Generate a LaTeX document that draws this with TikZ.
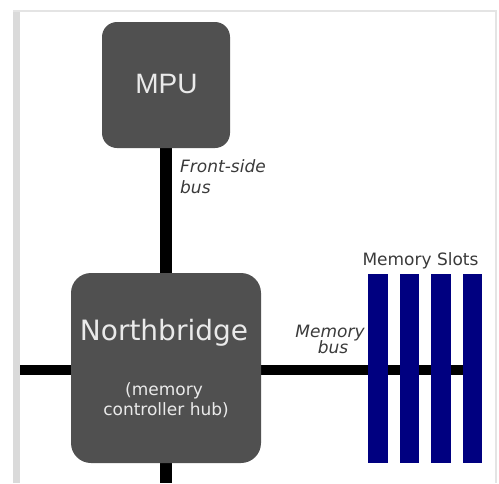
\documentclass[tikz,border=0pt]{standalone}
\usepackage{fontspec}
\setmainfont{DejaVu Sans}
\newfontfamily\arialfont{Liberation Sans}
\pgfdeclarelayer{background}
\pgfsetlayers{background,main}
\definecolor{boxgray}{HTML}{505050}
\definecolor{boxtext}{HTML}{EAEAEA}
\definecolor{labelgray}{HTML}{3A3A3A}
\definecolor{slotblue}{HTML}{000080}
\definecolor{framegray}{HTML}{DADADA}
\definecolor{framelight}{HTML}{E4E4E4}
\tikzset{
  chip/.style={draw=none, fill=boxgray, inner sep=0pt},
  slotbar/.style={draw=none, fill=slotblue, minimum width=19.5pt, minimum height=189pt, inner sep=0pt},
  bus/.style={line width=10pt, draw=black},
  vbus/.style={line width=12.5pt, draw=black},
  lbl/.style={text=labelgray, inner sep=0pt, font=\fontsize{17}{20}\selectfont\itshape},
  inbox/.style={text=boxtext, inner sep=0pt},
}
\begin{document}
\begin{tikzpicture}[x=1pt,y=-1pt]
\useasboundingbox (0,0) rectangle (499,483);
% frame
\fill[framegray] (13,10) rectangle (20,483);
\fill[framelight] (13,10) rectangle (497,12);
\fill[framelight] (495,10) rectangle (497,483);
% chips
\node[chip, rounded corners=15pt, minimum width=128pt, minimum height=126pt] (mpu) at (166,85) {};
\node[chip, rounded corners=20pt, minimum width=190pt, minimum height=190pt] (nb) at (166,368) {};
% slots
\node[slotbar] (s1) at (378,368.5) {};
\node[slotbar] (s2) at (409.5,368.5) {};
\node[slotbar] (s3) at (441,368.5) {};
\node[slotbar] (s4) at (472.5,368.5) {};
% bus coordinates
\coordinate (lend) at (20,370);
\coordinate (bend) at (166,483);
\begin{pgfonlayer}{background}
\draw[vbus] (mpu.south) -- (nb.north);
\draw[bus] (lend) -- (lend -| nb.west);
\draw[bus] (nb.east |- lend) -- (s4.west |- lend);
\draw[vbus] (nb.south) -- (bend);
\end{pgfonlayer}
% texts
\node[inbox, anchor=base, font=\arialfont\fontsize{28}{30}\selectfont] (mputxt) at (166.5,93) {MPU};
\node[inbox, anchor=base, font=\fontsize{28}{32}\selectfont] (nbtxt) at (164,340) {Northbridge};
\node[inbox, anchor=base, font=\fontsize{17}{20}\selectfont] (nbsub1) at (164,395) {(memory};
\node[inbox, anchor=base, font=\fontsize{17}{20}\selectfont] (nbsub2) at (166,415) {controller hub)};
\node[lbl, anchor=base west] (fsb1) at (180,172) {Front-side};
\node[lbl, anchor=base west] (fsb2) at (180,193) {bus};
\node[lbl, anchor=base] (mb1) at (330,337) {Memory};
\node[lbl, anchor=base] (mb2) at (333,353) {bus};
\node[text=labelgray, inner sep=0pt, anchor=base, font=\fontsize{17}{20}\selectfont] (slotlbl) at (420.5,265) {Memory Slots};
\end{tikzpicture}
\end{document}
